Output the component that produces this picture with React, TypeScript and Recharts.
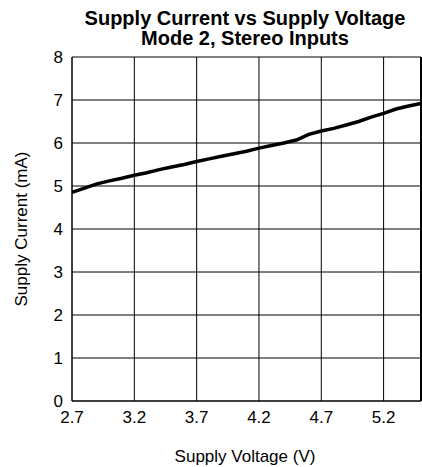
import { LineChart, Line, XAxis, YAxis, CartesianGrid, ReferenceLine } from "recharts";

const voltage = [2.7, 2.8, 2.9, 3.0, 3.1, 3.2, 3.3, 3.4, 3.5, 3.6, 3.7, 3.8, 3.9, 4.0, 4.1, 4.2, 4.3, 4.4, 4.5, 4.6, 4.7, 4.8, 4.9, 5.0, 5.1, 5.2, 5.3, 5.4, 5.5];
const current = [4.85, 4.95, 5.05, 5.12, 5.18, 5.25, 5.31, 5.38, 5.44, 5.5, 5.57, 5.63, 5.69, 5.75, 5.81, 5.88, 5.94, 6.0, 6.07, 6.2, 6.28, 6.34, 6.42, 6.5, 6.6, 6.69, 6.79, 6.86, 6.92];
const xTicks = [2.7, 3.2, 3.7, 4.2, 4.7, 5.2];
const yTicks = [0, 1, 2, 3, 4, 5, 6, 7, 8];

const data = voltage.map((v, i) => ({ v, i: current[i] }));

const FONT = "'Liberation Sans', Arial, Helvetica, sans-serif";

export default function App() {
  return (
    <div style={{ position: "absolute", left: 0, top: 0, width: 422, height: 467, background: "#fff", fontFamily: FONT }}>
      <div style={{ position: "absolute", left: 0, top: 8, width: 490, textAlign: "center", fontSize: 20, fontWeight: 700, lineHeight: "20px", color: "#000" }}>
        Supply Current vs Supply Voltage
        <br />
        Mode 2, Stereo Inputs
      </div>
      <LineChart width={422} height={467} data={data} margin={{ top: 57, right: 1, left: 0, bottom: 0 }}>
        <CartesianGrid stroke="#000" strokeOpacity={1} />
        <XAxis
          dataKey="v"
          type="number"
          domain={[2.7, 5.5]}
          ticks={xTicks}
          allowDataOverflow
          height={66}
          tickLine={false}
          tickSize={6}
          tickMargin={4}
          axisLine={{ stroke: "#000" }}
          tick={{ fill: "#000", fontSize: 17, fontFamily: FONT }}
        />
        <YAxis
          type="number"
          domain={[0, 8]}
          ticks={yTicks}
          width={72}
          tickLine={false}
          tickSize={6}
          tickMargin={3}
          axisLine={{ stroke: "#000" }}
          tick={{ fill: "#000", fontSize: 17, fontFamily: FONT }}
        />
        <ReferenceLine x={5.5} stroke="#000" strokeWidth={2} />
        <Line dataKey="i" stroke="#000" strokeWidth={3.5} dot={false} isAnimationActive={false} type="linear" />
      </LineChart>
      <div style={{ position: "absolute", left: 95, top: 447, width: 300, textAlign: "center", fontSize: 17, lineHeight: "20px", color: "#000" }}>
        Supply Voltage (V)
      </div>
      <div style={{ position: "absolute", left: 22 - 150, top: 229 - 10, width: 300, textAlign: "center", fontSize: 17, lineHeight: "20px", color: "#000", transform: "rotate(-90deg)" }}>
        Supply Current (mA)
      </div>
    </div>
  );
}
